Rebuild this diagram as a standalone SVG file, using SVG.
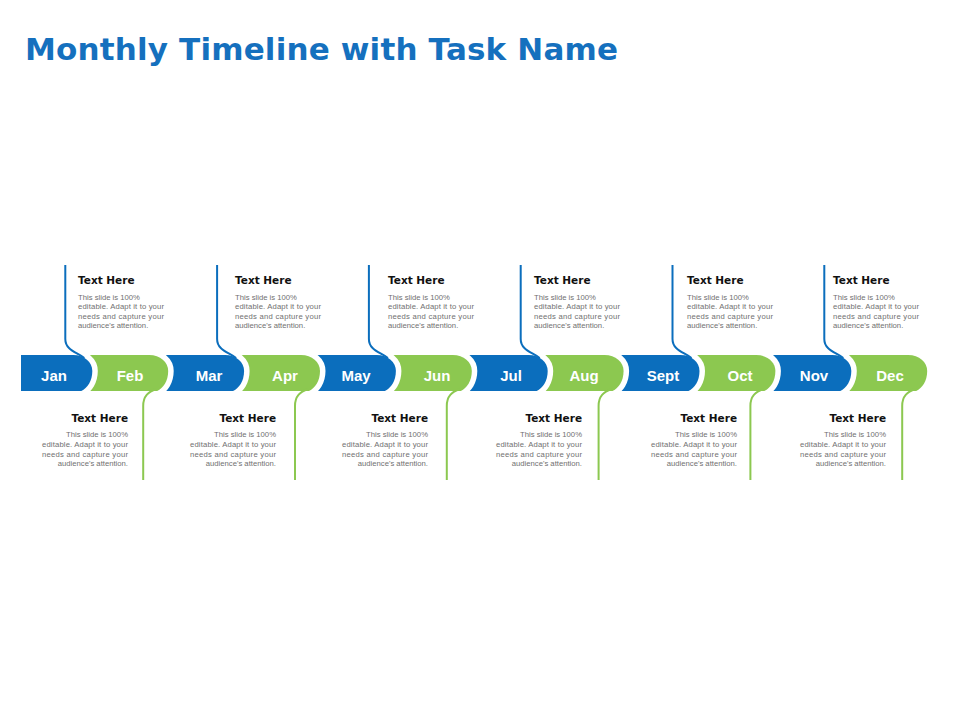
<svg xmlns="http://www.w3.org/2000/svg" width="960" height="720" viewBox="0 0 960 720">
<style>
.bg{fill:#ffffff}
.title{font-family:"DejaVu Sans","Liberation Sans",sans-serif;font-weight:bold;font-size:31px;fill:#1570BE}
.seg{stroke:#ffffff;stroke-width:11;stroke-linejoin:round;paint-order:stroke}
.blue{fill:#0B6EBD}
.green{fill:#8CC850}
.mon{font-family:"Liberation Sans",Arial,sans-serif;font-weight:bold;font-size:15px;fill:#ffffff;text-anchor:middle}
.hd{font-family:"DejaVu Sans","Liberation Sans",sans-serif;font-weight:bold;font-size:10.5px;fill:#111111}
.bd{font-family:"Liberation Sans",Arial,sans-serif;font-size:7.7px;fill:#707070}
.r{text-anchor:end}
.ln{fill:none;stroke-width:2}
.lb{stroke:#0B6EBD}
.lg{stroke:#8CC850}
</style>
<rect class="bg" x="0" y="0" width="960" height="720"/>
<text class="title" x="25" y="60" textLength="593">Monthly Timeline with Task Name</text>

<g id="dec"><path class="seg green" d="M826.3,355 H908.2 C919.2,355 927.2,362 927.2,371 C927.2,381 922.2,388 916.2,391 H826.3 Z"/><text class="mon" x="890" y="380.5">Dec</text></g>
<g id="nov"><path class="seg blue" d="M750.4,355 H832.3 C843.3,355 851.3,362 851.3,371 C851.3,381 846.3,388 840.3,391 H750.4 Z"/><text class="mon" x="814" y="380.5">Nov</text></g>
<g id="oct"><path class="seg green" d="M674.5,355 H756.4 C767.4,355 775.4,362 775.4,371 C775.4,381 770.4,388 764.4,391 H674.5 Z"/><text class="mon" x="740" y="380.5">Oct</text></g>
<g id="sept"><path class="seg blue" d="M598.6,355 H680.5 C691.5,355 699.5,362 699.5,371 C699.5,381 694.5,388 688.5,391 H598.6 Z"/><text class="mon" x="663" y="380.5">Sept</text></g>
<g id="aug"><path class="seg green" d="M522.7,355 H604.6 C615.6,355 623.6,362 623.6,371 C623.6,381 618.6,388 612.6,391 H522.7 Z"/><text class="mon" x="584" y="380.5">Aug</text></g>
<g id="jul"><path class="seg blue" d="M446.8,355 H528.7 C539.7,355 547.7,362 547.7,371 C547.7,381 542.7,388 536.7,391 H446.8 Z"/><text class="mon" x="511" y="380.5">Jul</text></g>
<g id="jun"><path class="seg green" d="M370.9,355 H452.8 C463.8,355 471.8,362 471.8,371 C471.8,381 466.8,388 460.8,391 H370.9 Z"/><text class="mon" x="437" y="380.5">Jun</text></g>
<g id="may"><path class="seg blue" d="M295,355 H376.9 C387.9,355 395.9,362 395.9,371 C395.9,381 390.9,388 384.9,391 H295 Z"/><text class="mon" x="356" y="380.5">May</text></g>
<g id="apr"><path class="seg green" d="M219.1,355 H301 C312,355 320,362 320,371 C320,381 315,388 309,391 H219.1 Z"/><text class="mon" x="285" y="380.5">Apr</text></g>
<g id="mar"><path class="seg blue" d="M143.2,355 H225.1 C236.1,355 244.1,362 244.1,371 C244.1,381 239.1,388 233.1,391 H143.2 Z"/><text class="mon" x="209" y="380.5">Mar</text></g>
<g id="feb"><path class="seg green" d="M67.3,355 H149.2 C160.2,355 168.2,362 168.2,371 C168.2,381 163.2,388 157.2,391 H67.3 Z"/><text class="mon" x="130" y="380.5">Feb</text></g>
<g id="jan"><path class="seg blue" d="M21,355 H73.3 C84.3,355 92.3,362 92.3,371 C92.3,381 87.3,388 81.3,391 H21 Z"/><text class="mon" x="54" y="380.5">Jan</text></g>

<g id="connectors">
<path class="ln lb" d="M65.3,265 V339 C65.3,350 76.3,352 84.3,358"/>
<path class="ln lb" d="M217.1,265 V339 C217.1,350 228.1,352 236.1,358"/>
<path class="ln lb" d="M368.9,265 V339 C368.9,350 379.9,352 387.9,358"/>
<path class="ln lb" d="M520.7,265 V339 C520.7,350 531.7,352 539.7,358"/>
<path class="ln lb" d="M672.5,265 V339 C672.5,350 683.5,352 691.5,358"/>
<path class="ln lb" d="M824.3,265 V339 C824.3,350 835.3,352 843.3,358"/>
<path class="ln lg" d="M156.2,389 C148.2,392 143.2,396 143.2,406 V480"/>
<path class="ln lg" d="M308,389 C300,392 295,396 295,406 V480"/>
<path class="ln lg" d="M459.8,389 C451.8,392 446.8,396 446.8,406 V480"/>
<path class="ln lg" d="M611.6,389 C603.6,392 598.6,396 598.6,406 V480"/>
<path class="ln lg" d="M763.4,389 C755.4,392 750.4,396 750.4,406 V480"/>
<path class="ln lg" d="M915.2,389 C907.2,392 902.2,396 902.2,406 V480"/>
</g>

<g id="task-jan"><text class="hd" x="78" y="283.5">Text Here</text><text class="bd" x="78" y="299.7">This slide is 100%</text><text class="bd" x="78" y="309.3" textLength="86">editable.  Adapt it to your</text><text class="bd" x="78" y="318.8" textLength="86">needs and capture your</text><text class="bd" x="78" y="328.4">audience's attention.</text></g>
<g id="task-mar"><text class="hd" x="235" y="283.5">Text Here</text><text class="bd" x="235" y="299.7">This slide is 100%</text><text class="bd" x="235" y="309.3" textLength="86">editable.  Adapt it to your</text><text class="bd" x="235" y="318.8" textLength="86">needs and capture your</text><text class="bd" x="235" y="328.4">audience's attention.</text></g>
<g id="task-may"><text class="hd" x="388" y="283.5">Text Here</text><text class="bd" x="388" y="299.7">This slide is 100%</text><text class="bd" x="388" y="309.3" textLength="86">editable.  Adapt it to your</text><text class="bd" x="388" y="318.8" textLength="86">needs and capture your</text><text class="bd" x="388" y="328.4">audience's attention.</text></g>
<g id="task-jul"><text class="hd" x="534" y="283.5">Text Here</text><text class="bd" x="534" y="299.7">This slide is 100%</text><text class="bd" x="534" y="309.3" textLength="86">editable.  Adapt it to your</text><text class="bd" x="534" y="318.8" textLength="86">needs and capture your</text><text class="bd" x="534" y="328.4">audience's attention.</text></g>
<g id="task-sept"><text class="hd" x="687" y="283.5">Text Here</text><text class="bd" x="687" y="299.7">This slide is 100%</text><text class="bd" x="687" y="309.3" textLength="86">editable.  Adapt it to your</text><text class="bd" x="687" y="318.8" textLength="86">needs and capture your</text><text class="bd" x="687" y="328.4">audience's attention.</text></g>
<g id="task-nov"><text class="hd" x="833" y="283.5">Text Here</text><text class="bd" x="833" y="299.7">This slide is 100%</text><text class="bd" x="833" y="309.3" textLength="86">editable.  Adapt it to your</text><text class="bd" x="833" y="318.8" textLength="86">needs and capture your</text><text class="bd" x="833" y="328.4">audience's attention.</text></g>

<g id="task-feb"><text class="hd r" x="128" y="422.3">Text Here</text><text class="bd r" x="128" y="437.3">This slide is 100%</text><text class="bd r" x="128" y="447" textLength="86">editable.  Adapt it to your</text><text class="bd r" x="128" y="456.7" textLength="86">needs and capture your</text><text class="bd r" x="128" y="466.4">audience's attention.</text></g>
<g id="task-apr"><text class="hd r" x="276" y="422.3">Text Here</text><text class="bd r" x="276" y="437.3">This slide is 100%</text><text class="bd r" x="276" y="447" textLength="86">editable.  Adapt it to your</text><text class="bd r" x="276" y="456.7" textLength="86">needs and capture your</text><text class="bd r" x="276" y="466.4">audience's attention.</text></g>
<g id="task-jun"><text class="hd r" x="428" y="422.3">Text Here</text><text class="bd r" x="428" y="437.3">This slide is 100%</text><text class="bd r" x="428" y="447" textLength="86">editable.  Adapt it to your</text><text class="bd r" x="428" y="456.7" textLength="86">needs and capture your</text><text class="bd r" x="428" y="466.4">audience's attention.</text></g>
<g id="task-aug"><text class="hd r" x="582" y="422.3">Text Here</text><text class="bd r" x="582" y="437.3">This slide is 100%</text><text class="bd r" x="582" y="447" textLength="86">editable.  Adapt it to your</text><text class="bd r" x="582" y="456.7" textLength="86">needs and capture your</text><text class="bd r" x="582" y="466.4">audience's attention.</text></g>
<g id="task-oct"><text class="hd r" x="737" y="422.3">Text Here</text><text class="bd r" x="737" y="437.3">This slide is 100%</text><text class="bd r" x="737" y="447" textLength="86">editable.  Adapt it to your</text><text class="bd r" x="737" y="456.7" textLength="86">needs and capture your</text><text class="bd r" x="737" y="466.4">audience's attention.</text></g>
<g id="task-dec"><text class="hd r" x="886" y="422.3">Text Here</text><text class="bd r" x="886" y="437.3">This slide is 100%</text><text class="bd r" x="886" y="447" textLength="86">editable.  Adapt it to your</text><text class="bd r" x="886" y="456.7" textLength="86">needs and capture your</text><text class="bd r" x="886" y="466.4">audience's attention.</text></g>
</svg>
